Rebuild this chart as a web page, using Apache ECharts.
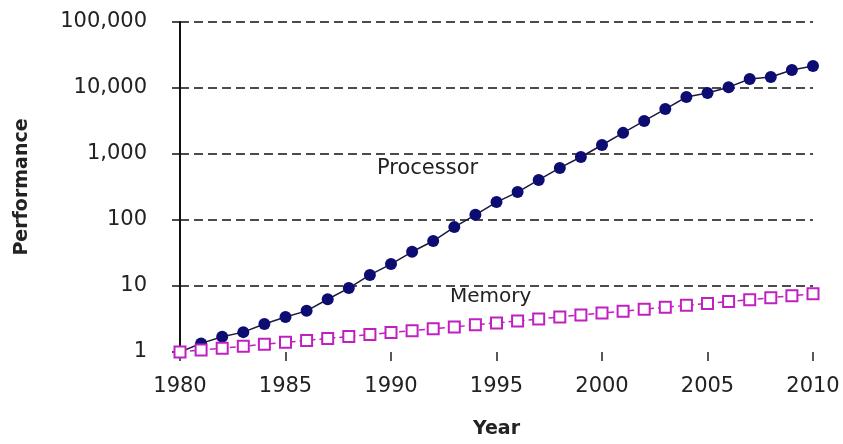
<!DOCTYPE html>
<html lang="en">
<head>
    <meta charset="UTF-8">
    <title>Processor vs Memory</title>
    <style>
        html, body { margin: 0; padding: 0; background: #fff; }
        #chart { width: 843px; height: 444px; }
    </style>
</head>
<body>
    <div id="chart"></div>
    <script src="https://cdn.jsdelivr.net/npm/echarts@6/dist/echarts.min.js"></script>
    <script type="text/javascript">
        // years on the x axis
        var years = [1980, 1981, 1982, 1983, 1984, 1985, 1986, 1987, 1988, 1989,
            1990, 1991, 1992, 1993, 1994, 1995, 1996, 1997, 1998, 1999,
            2000, 2001, 2002, 2003, 2004, 2005, 2006, 2007, 2008, 2009, 2010];

        // processor performance
        var processor = [1, 1.35, 1.7, 2.0, 2.65, 3.4, 4.2, 6.3, 9.3, 14.7,
            21.5, 33, 48, 78, 120, 187, 265, 405, 615, 900,
            1370, 2090, 3170, 4800, 7300, 8400, 10300, 13700, 14700, 18700, 21500];

        // memory performance
        var memory = [1, 1.07, 1.14, 1.22, 1.31, 1.4, 1.5, 1.6, 1.72, 1.84,
            1.97, 2.1, 2.25, 2.4, 2.58, 2.76, 2.95, 3.15, 3.4, 3.65,
            3.9, 4.15, 4.45, 4.75, 5.1, 5.45, 5.8, 6.2, 6.65, 7.1, 7.6];

        var yTicks = [1, 10, 100, 1000, 10000, 100000];

        var chart = echarts.init(document.getElementById('chart'));

        function pairs(vals) {
            return years.map(function (y, i) { return [y, vals[i]]; });
        }

        var font = 'DejaVu Sans';

        var option = {
            backgroundColor: '#fff',
            animation: false,
            grid: { left: 180, right: 30, top: 22, bottom: 92 },
            xAxis: {
                type: 'value',
                min: 1980,
                max: 2010,
                interval: 5,
                name: 'Year',
                nameLocation: 'middle',
                nameGap: 68,
                nameTextStyle: { fontFamily: font, fontSize: 19, fontWeight: 'bold', color: '#222' },
                axisLine: { show: false },
                axisTick: { show: true, length: 9, lineStyle: { color: '#222', width: 1.5 } },
                axisLabel: {
                    fontFamily: font, fontSize: 21, color: '#222', margin: 24,
                    formatter: function (v) { return String(v); }
                },
                splitLine: { show: false }
            },
            yAxis: {
                type: 'log',
                logBase: 10,
                min: yTicks[0],
                max: yTicks[yTicks.length - 1],
                name: 'Performance',
                nameLocation: 'middle',
                nameGap: 148,
                nameTextStyle: { fontFamily: font, fontSize: 19, fontWeight: 'bold', color: '#222' },
                axisLine: { show: true, lineStyle: { color: '#111', width: 2 } },
                axisTick: { show: true, length: 8, lineStyle: { color: '#111', width: 1.5 } },
                axisLabel: {
                    fontFamily: font, fontSize: 21, color: '#222', margin: 33,
                    formatter: function (v) { return Math.round(v).toLocaleString('en-US'); }
                },
                splitLine: {
                    show: true,
                    showMinLine: false,
                    lineStyle: { color: '#111', width: 1.5, type: [9, 5] }
                }
            },
            series: [
                {
                    name: 'Processor',
                    type: 'line',
                    data: pairs(processor),
                    symbol: 'circle',
                    symbolSize: 12,
                    itemStyle: { color: '#0c0c72' },
                    lineStyle: { color: '#1a1a40', width: 1.5 },
                    z: 3
                },
                {
                    name: 'Memory',
                    type: 'line',
                    data: pairs(memory),
                    symbol: 'emptyRect',
                    symbolSize: 11,
                    itemStyle: { color: '#c020c0', borderWidth: 1.5 },
                    lineStyle: { color: '#c020c0', width: 1.5, type: [6, 4] },
                    z: 4
                }
            ],
            graphic: [
                {
                    type: 'text', left: 377, top: 158,
                    style: { text: 'Processor', font: '21px "DejaVu Sans"', fill: '#222' }
                },
                {
                    type: 'text', left: 450, top: 287,
                    style: { text: 'Memory', font: '20px "DejaVu Sans"', fill: '#222' }
                }
            ]
        };

        chart.setOption(option);
    </script>
</body>
</html>
